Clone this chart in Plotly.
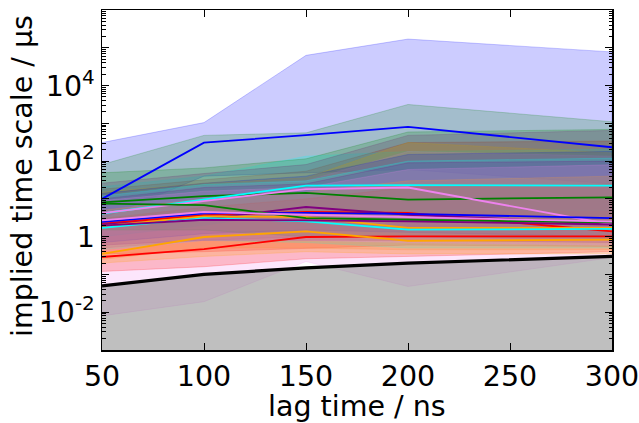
import plotly.graph_objects as go

# ---------------- data ----------------
lag_ns = [50, 100, 150, 200, 300]
lag_us = [v / 1000.0 for v in lag_ns]          # lag time converted to microseconds

proc_colors = ["blue", "red", "green", "cyan", "purple", "orange", "violet",
               "blue", "red", "green", "cyan", "purple", "orange", "violet"]

# implied timescales (µs) per process at each lag
timescales = [
    [10.0, 308, 488, 810, 233],     # blue
    [2.2, 3.7, 4.5, 4.25, 1.38],    # red
    [8.1, 11.9, 14.4, 9.6, 11.0],   # green
    [4.1, 9.8, 22.5, 23.0, 22.5],   # cyan
    [2.1, 2.95, 6.1, 3.8, 2.2],     # purple
    [1.9, 3.45, 3.3, 1.7, 1.7],     # orange
    [4.2, 8.7, 18.2, 20.0, 2.1],    # violet
    [2.45, 4.15, 4.25, 4.0, 3.1],   # blue
    [0.29, 0.47, 0.98, 1.02, 1.02], # red
    [7.5, 6.8, 3.1, 2.8, 2.4],      # green
    [1.7, 3.1, 2.55, 1.53, 1.6],    # cyan
    [1.95, 2.8, 2.7, 2.55, 2.1],    # purple
    [0.35, 0.98, 1.38, 0.78, 0.83], # orange
    [2.7, 4.5, 3.8, 3.3, 2.5],      # violet
]

conf_lower = [
    [3.0, 40, 50, 60, 25],
    [0.35, 0.4, 0.5, 0.6, 0.55],
    [2.0, 3.0, 4.0, 3.0, 3.0],
    [1.0, 2.0, 5.0, 5.0, 5.0],
    [0.5, 0.8, 1.0, 1.0, 0.8],
    [0.25, 0.5, 0.5, 0.45, 0.45],
    [0.008, 0.019, 0.22, 0.048, 0.28],
    [0.7, 1.2, 1.5, 1.3, 1.0],
    [0.12, 0.16, 0.26, 0.30, 0.40],
    [1.5, 1.5, 1.0, 1.0, 0.9],
    [0.45, 0.8, 0.7, 0.5, 0.5],
    [0.6, 0.8, 0.8, 0.8, 0.7],
    [0.2, 0.3, 0.4, 0.35, 0.35],
    [0.4, 0.8, 0.8, 0.7, 0.6],
]

conf_upper = [
    [309, 1047, 63000, 170000, 77600],
    [18, 32, 54, 310, 340],
    [81, 480, 560, 3160, 1100],
    [21, 40, 135, 180, 205],
    [26, 47, 81, 480, 650],
    [15, 26, 36, 310, 165],
    [12, 22, 30, 180, 135],
    [14, 26, 40, 150, 180],
    [3, 6, 10, 20, 25],
    [49, 66, 115, 590, 690],
    [12, 24, 30, 100, 120],
    [10, 20, 25, 90, 100],
    [5, 10, 15, 30, 40],
    [9, 16, 20, 60, 80],
]

y_axis_min = 1e-3
ytick_vals = [1e-3, 1e-2, 1e-1, 1, 1e1, 1e2, 1e3, 1e4, 1e5, 1e6]
ytick_text = ["", "10<sup>-2</sup>", "", "1", "", "10<sup>2</sup>", "", "10<sup>4</sup>", "", ""]
xtick_vals = [50, 100, 150, 200, 250, 300]
x_title = "lag time / ns"
y_title = "implied time scale / µs"

rgb = {
    "blue": (0, 0, 255), "red": (255, 0, 0), "green": (0, 128, 0),
    "cyan": (0, 255, 255), "purple": (128, 0, 128), "orange": (255, 165, 0),
    "violet": (238, 130, 238),
}

def rgba(name, a):
    r, g, b = rgb[name]
    return f"rgba({r},{g},{b},{a})"

fig = go.Figure()

# confidence bands
for c, lo, hi in zip(proc_colors, conf_lower, conf_upper):
    fig.add_trace(go.Scatter(
        x=lag_ns + lag_ns[::-1], y=hi + lo[::-1],
        mode="lines", fill="toself", fillcolor=rgba(c, 0.2),
        line=dict(color=rgba(c, 0.2), width=1),
        hoverinfo="skip", showlegend=False))

# grey region below lag time
fig.add_trace(go.Scatter(
    x=lag_ns + lag_ns[::-1], y=lag_us + [y_axis_min] * len(lag_ns),
    mode="lines", fill="toself", fillcolor="rgba(128,128,128,0.5)",
    line=dict(width=0), hoverinfo="skip", showlegend=False))

# implied timescale lines
for c, ts in zip(proc_colors, timescales):
    fig.add_trace(go.Scatter(
        x=lag_ns, y=ts, mode="lines",
        line=dict(color=rgba(c, 1), width=1.8), showlegend=False))

# lag-time line
fig.add_trace(go.Scatter(
    x=lag_ns, y=lag_us, mode="lines",
    line=dict(color="black", width=3.2), showlegend=False))

font_family = "DejaVu Sans"
fs = 28.5
fig.update_layout(
    width=639, height=423,
    margin=dict(l=102, r=27, t=10, b=73),
    paper_bgcolor="white", plot_bgcolor="white",
    font=dict(family=font_family, color="black", size=fs),
    showlegend=False,
    annotations=[
        dict(text=x_title, xref="paper", yref="paper", x=0.5, y=0,
             xanchor="center", yanchor="middle", yshift=-56,
             showarrow=False, font=dict(size=fs)),
        dict(text=y_title, xref="paper", yref="paper", x=0, y=0.5,
             xanchor="center", yanchor="middle", xshift=-80, yshift=4,
             textangle=-90, showarrow=False, font=dict(size=fs)),
    ],
)
fig.update_xaxes(
    range=[50, 300], tickvals=xtick_vals, ticks="inside", ticklen=7,
    tickwidth=1, tickcolor="black", showline=True, linecolor="black",
    linewidth=1.5, mirror="ticks", showgrid=False, zeroline=False,
    tickfont=dict(size=fs), automargin=False, ticklabeloverflow="allow",
)
fig.update_yaxes(
    type="log", range=[-3, 6], tickvals=ytick_vals, ticktext=ytick_text,
    ticks="inside", ticklen=7, tickwidth=1, tickcolor="black",
    showline=True, linecolor="black", linewidth=1.5, mirror="ticks",
    showgrid=False, zeroline=False, tickfont=dict(size=fs), automargin=False,
    ticklabeloverflow="allow",
    minor=dict(ticks="inside", ticklen=3.5, tickcolor="black", dtick="D1", showgrid=False),
)

fig.write_html("out.html", config={"displayModeBar": False, "staticPlot": True},
               post_script="document.body.style.margin='0px';")
